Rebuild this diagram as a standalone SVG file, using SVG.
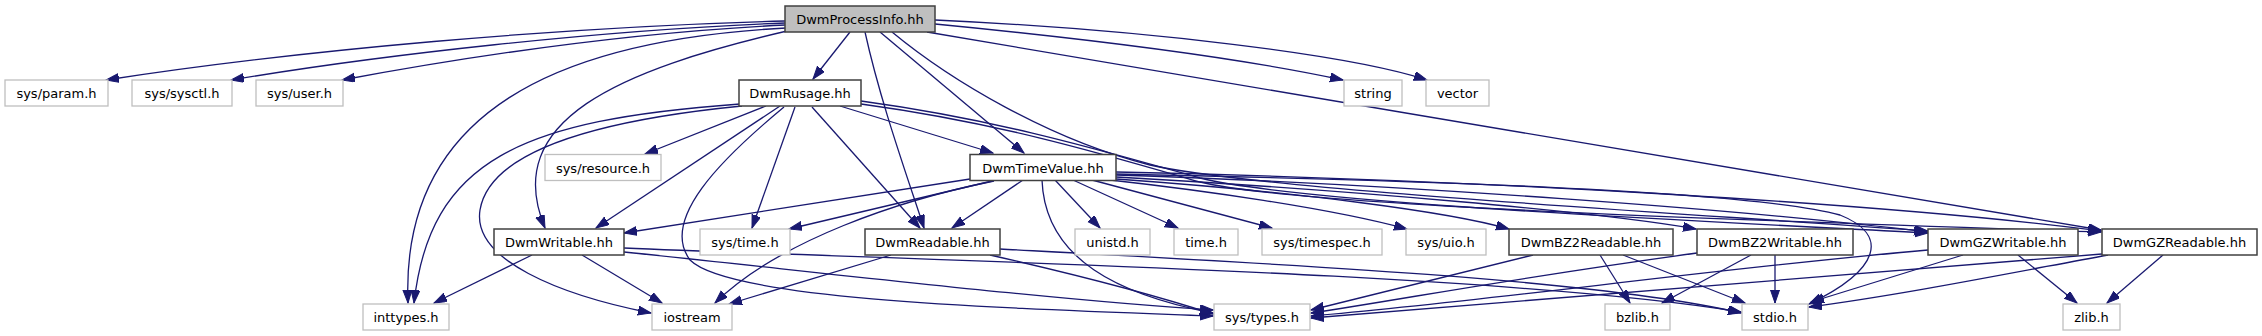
<svg xmlns="http://www.w3.org/2000/svg" width="2262" height="336" viewBox="0 0 2262 336">
<style>
.n rect{fill:#ffffff;stroke:#404040;stroke-width:1.5}
.x rect{fill:#ffffff;stroke:#bfbfbf;stroke-width:1.3}
.r rect{fill:#bfbfbf;stroke:#404040;stroke-width:1.5}
text{font-family:"DejaVu Sans","Liberation Sans",sans-serif;font-size:13px;fill:#000;text-anchor:middle}
#edges path{fill:none;stroke:#191970;stroke-width:1.3;marker-end:url(#a)}
</style>
<defs>
<marker id="a" markerUnits="userSpaceOnUse" markerWidth="14" markerHeight="10" refX="13" refY="4.5" orient="auto" viewBox="0 0 14 10">
<path d="M0,0 L13,4.5 L0,9 Z" fill="#191970" stroke="#191970" stroke-width="1"/>
</marker>
</defs>
<rect width="2262" height="336" fill="#ffffff"/>
<g id="edges">
<path d="M785,21 C560,27 300,50 106,80"/>
<path d="M785,23 C600,30 380,55 231,80"/>
<path d="M785,25 C620,33 460,58 342,80"/>
<path d="M786,28 C560,40 400,110 408,303"/>
<path d="M787,31 C620,70 500,120 545,228"/>
<path d="M850,32 L813,79"/>
<path d="M865,32 C880,100 905,170 924,228"/>
<path d="M880,32 L1024,153"/>
<path d="M892,32 C950,80 1050,140 1150,165 C1260,190 1700,214 1928,231"/>
<path d="M927,32 C1300,95 1800,180 2101,230"/>
<path d="M935,24 C1100,40 1250,60 1343,80"/>
<path d="M935,20 C1150,30 1350,55 1427,80"/>
<path d="M766,106 L645,154"/>
<path d="M740,104 C520,120 430,160 414,303"/>
<path d="M742,106 C600,120 490,150 480,210 C472,260 560,295 651,313"/>
<path d="M780,106 L596,228"/>
<path d="M795,107 L752,228"/>
<path d="M812,107 L920,228"/>
<path d="M840,106 L993,153"/>
<path d="M784,107 C720,160 660,220 690,260 C730,300 1000,308 1213,316"/>
<path d="M861,101 C1000,120 1100,150 1200,178 C1300,203 1700,221 1928,233"/>
<path d="M861,104 C1000,123 1100,153 1200,182 C1300,207 1800,222 2101,232"/>
<path d="M970,179 L624,233"/>
<path d="M992,181 L789,229"/>
<path d="M994,181 C900,200 780,240 715,303"/>
<path d="M1023,180 L952,228"/>
<path d="M1055,180 L1100,228"/>
<path d="M1073,180 L1178,228"/>
<path d="M1092,180 L1272,228"/>
<path d="M1110,180 C1200,190 1330,208 1407,229"/>
<path d="M1116,179 C1300,192 1450,212 1509,229"/>
<path d="M1116,177 C1350,190 1600,212 1696,229"/>
<path d="M1116,175 C1400,184 1750,210 1927,232"/>
<path d="M1116,172 C1500,180 1900,205 2101,231"/>
<path d="M1042,180 C1045,260 1120,295 1213,313"/>
<path d="M1116,174 C1400,180 1750,190 1840,215 C1890,235 1880,270 1809,304"/>
<path d="M532,255 L434,303"/>
<path d="M582,255 L662,303"/>
<path d="M624,252 C800,270 1050,300 1213,310"/>
<path d="M624,248 C900,260 1500,272 1741,312"/>
<path d="M891,255 L729,304"/>
<path d="M990,255 C1100,280 1170,300 1213,314"/>
<path d="M1000,249 C1300,265 1600,280 1741,313"/>
<path d="M1533,255 L1311,310"/>
<path d="M1600,255 L1630,303"/>
<path d="M1623,255 L1745,303"/>
<path d="M1697,253 C1500,280 1400,300 1311,313"/>
<path d="M1751,255 L1662,303"/>
<path d="M1775,255 L1775,303"/>
<path d="M1928,250 C1700,270 1500,300 1311,316"/>
<path d="M1963,255 L1811,302"/>
<path d="M2018,255 L2077,303"/>
<path d="M2102,254 C1800,280 1500,305 1311,318"/>
<path d="M2108,255 C2000,275 1900,295 1809,307"/>
<path d="M2163,255 L2107,303"/>
</g>
<g id="DwmProcessInfo" class="r"><rect x="785" y="6" width="150" height="26"/><text x="860" y="24">DwmProcessInfo.hh</text></g>
<g id="sys_param" class="x"><rect x="5" y="80" width="103" height="26"/><text x="56.5" y="98">sys/param.h</text></g>
<g id="sys_sysctl" class="x"><rect x="132" y="80" width="100" height="26"/><text x="182" y="98">sys/sysctl.h</text></g>
<g id="sys_user" class="x"><rect x="256" y="80" width="87" height="26"/><text x="299.5" y="98">sys/user.h</text></g>
<g id="DwmRusage" class="n"><rect x="739" y="80" width="122" height="26"/><text x="800" y="98">DwmRusage.hh</text></g>
<g id="string" class="x"><rect x="1344" y="80" width="58" height="26"/><text x="1373" y="98">string</text></g>
<g id="vector" class="x"><rect x="1426" y="80" width="63" height="26"/><text x="1457.5" y="98">vector</text></g>
<g id="sys_resource" class="x"><rect x="545" y="154.5" width="116" height="26"/><text x="603" y="172.5">sys/resource.h</text></g>
<g id="DwmTimeValue" class="n"><rect x="970" y="154.5" width="146" height="26"/><text x="1043" y="172.5">DwmTimeValue.hh</text></g>
<g id="DwmWritable" class="n"><rect x="494" y="229" width="130" height="26"/><text x="559" y="247">DwmWritable.hh</text></g>
<g id="sys_time" class="x"><rect x="700" y="229" width="90" height="26"/><text x="745" y="247">sys/time.h</text></g>
<g id="DwmReadable" class="n"><rect x="865" y="229" width="135" height="26"/><text x="932.5" y="247">DwmReadable.hh</text></g>
<g id="unistd" class="x"><rect x="1075" y="229" width="75" height="26"/><text x="1112.5" y="247">unistd.h</text></g>
<g id="time" class="x"><rect x="1174" y="229" width="64" height="26"/><text x="1206" y="247">time.h</text></g>
<g id="sys_timespec" class="x"><rect x="1262" y="229" width="120" height="26"/><text x="1322" y="247">sys/timespec.h</text></g>
<g id="sys_uio" class="x"><rect x="1406" y="229" width="80" height="26"/><text x="1446" y="247">sys/uio.h</text></g>
<g id="DwmBZ2Readable" class="n"><rect x="1509" y="229" width="164" height="26"/><text x="1591" y="247">DwmBZ2Readable.hh</text></g>
<g id="DwmBZ2Writable" class="n"><rect x="1697" y="229" width="156" height="26"/><text x="1775" y="247">DwmBZ2Writable.hh</text></g>
<g id="DwmGZWritable" class="n"><rect x="1928" y="229" width="150" height="26"/><text x="2003" y="247">DwmGZWritable.hh</text></g>
<g id="DwmGZReadable" class="n"><rect x="2102" y="229" width="155" height="26"/><text x="2179.5" y="247">DwmGZReadable.hh</text></g>
<g id="inttypes" class="x"><rect x="363" y="304" width="86" height="26"/><text x="406" y="322">inttypes.h</text></g>
<g id="iostream" class="x"><rect x="652" y="304" width="80" height="26"/><text x="692" y="322">iostream</text></g>
<g id="sys_types" class="x"><rect x="1214" y="304" width="96" height="26"/><text x="1262" y="322">sys/types.h</text></g>
<g id="bzlib" class="x"><rect x="1605" y="304" width="65" height="26"/><text x="1637.5" y="322">bzlib.h</text></g>
<g id="stdio" class="x"><rect x="1742" y="304" width="66" height="26"/><text x="1775" y="322">stdio.h</text></g>
<g id="zlib" class="x"><rect x="2063" y="304" width="57" height="26"/><text x="2091.5" y="322">zlib.h</text></g>
</svg>
